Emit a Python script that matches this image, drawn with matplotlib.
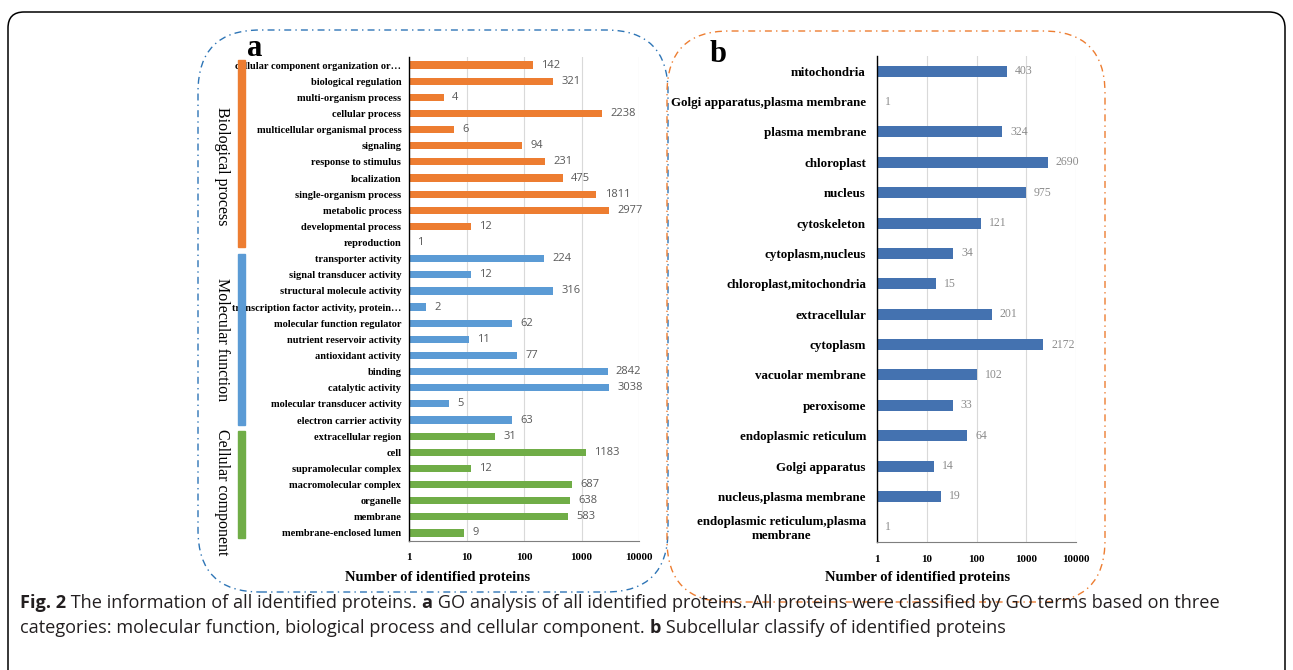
import matplotlib.pyplot as plt
from matplotlib.patches import FancyBboxPatch, Rectangle
from matplotlib.transforms import IdentityTransform

# ---- data -------------------------------------------------------------
go_terms = [
    "cellular component organization or…", "biological regulation",
    "multi-organism process", "cellular process",
    "multicellular organismal process", "signaling", "response to stimulus",
    "localization", "single-organism process", "metabolic process",
    "developmental process", "reproduction",
    "transporter activity", "signal transducer activity",
    "structural molecule activity", "transcription factor activity, protein…",
    "molecular function regulator", "nutrient reservoir activity",
    "antioxidant activity", "binding", "catalytic activity",
    "molecular transducer activity", "electron carrier activity",
    "extracellular region", "cell", "supramolecular complex",
    "macromolecular complex", "organelle", "membrane",
    "membrane-enclosed lumen",
]
go_counts = [142, 321, 4, 2238, 6, 94, 231, 475, 1811, 2977, 12, 1,
             224, 12, 316, 2, 62, 11, 77, 2842, 3038, 5, 63,
             31, 1183, 12, 687, 638, 583, 9]
go_groups = ["Biological process", "Molecular function", "Cellular component"]
go_group_sizes = [12, 11, 7]

loc_terms = [
    "mitochondria", "Golgi apparatus,plasma membrane", "plasma membrane",
    "chloroplast", "nucleus", "cytoskeleton", "cytoplasm,nucleus",
    "chloroplast,mitochondria", "extracellular", "cytoplasm",
    "vacuolar membrane", "peroxisome", "endoplasmic reticulum",
    "Golgi apparatus", "nucleus,plasma membrane",
    "endoplasmic reticulum,plasma\nmembrane",
]
loc_counts = [403, 1, 324, 2690, 975, 121, 34, 15, 201, 2172, 102, 33, 64,
              14, 19, 1]

x_ticks = [1, 10, 100, 1000, 10000]

# ---- style ------------------------------------------------------------
W, H = 1293, 670
serif = "Liberation Serif"
group_colors = ["#ED7D31", "#5B9BD5", "#70AD47"]
loc_color = "#4472B0"
grid_color = "#D9D9D9"

fig = plt.figure(figsize=(W / 100, H / 100), dpi=100)


def px_axes(x0, y0, x1, y1):
    # pixel box (image coords, y down) -> figure fraction axes
    return fig.add_axes([x0 / W, 1 - y1 / H, (x1 - x0) / W, (y1 - y0) / H])


def px_box(x0, y0, x1, y1, r, **kw):
    p = FancyBboxPatch((x0, H - y1), x1 - x0, y1 - y0,
                       boxstyle=f"round,pad=0,rounding_size={r}",
                       transform=IdentityTransform(), fill=False, **kw)
    fig.add_artist(p)


# frames
px_box(8, 12, 1285, 720, 16, edgecolor="black", linewidth=1.1)
dashdot = (0, (5, 3, 1, 3))
px_box(198, 30, 668, 592, 62, edgecolor="#2E75B6", linewidth=1.0,
       linestyle=dashdot)
px_box(667, 31, 1105, 602, 62, edgecolor="#ED7D31", linewidth=1.0,
       linestyle=dashdot)


def style_axis(ax, n, label_x, label_y):
    ax.set_xscale("log")
    ax.set_xlim(1, 10000)
    ax.set_ylim(n - 0.5, -0.5)
    ax.set_xticks(x_ticks)
    ax.set_xticklabels([str(t) for t in x_ticks], fontfamily=serif,
                       fontweight="bold", fontsize=8)
    ax.minorticks_off()
    ax.tick_params(axis="x", length=0, pad=9)
    ax.tick_params(axis="y", length=0)
    ax.grid(axis="x", color=grid_color, linewidth=0.8)
    ax.set_axisbelow(True)
    for s in ("top", "right"):
        ax.spines[s].set_visible(False)
    ax.spines["left"].set_color("black")
    ax.spines["left"].set_linewidth(1.0)
    ax.spines["bottom"].set_color("#7F7F7F")
    ax.spines["bottom"].set_linewidth(0.8)
    lab = ax.set_xlabel("Number of identified proteins", fontfamily=serif,
                        fontweight="bold", fontsize=10.5)
    lab.set_va("center")
    ax.xaxis.set_label_coords(label_x, label_y)


# ---- panel a ----------------------------------------------------------
ax1 = px_axes(409, 57, 639, 541)
colors_a = []
for c, n in zip(group_colors, go_group_sizes):
    colors_a += [c] * n
ya = list(range(len(go_terms)))
ax1.barh(ya, [v - 1 for v in go_counts], left=1, height=0.45,
         color=colors_a)
style_axis(ax1, len(go_terms), (438 - 409) / 230, -(577 - 541) / 484)
ax1.set_yticks(ya)
ax1.set_yticklabels(go_terms, fontfamily=serif, fontweight="bold",
                    fontsize=7.5)
ax1.tick_params(axis="y", pad=5.5)
for y, v in zip(ya, go_counts):
    ax1.annotate(str(v), (v, y), xytext=(6, 0), textcoords="offset points",
                 va="center", ha="left", fontsize=8, color="#595959",
                 family="Open Sans")

# group bars and group names to the left
start = 0
ax_w = 639 - 409
name_shift = [0.75, 0, 0.5]
for name, n, c, dy in zip(go_groups, go_group_sizes, group_colors,
                          name_shift):
    y0, y1 = start - 0.3, start + n - 1 + 0.3
    ax1.add_patch(Rectangle(((238 - 409) / ax_w, y0), 7 / ax_w, y1 - y0,
                            transform=ax1.get_yaxis_transform(),
                            color=c, clip_on=False, zorder=3))
    ax1.text((222 - 409) / ax_w, (y0 + y1) / 2 + dy, name,
             transform=ax1.get_yaxis_transform(), rotation=-90,
             ha="center", va="center", fontfamily=serif, fontsize=11.5)
    start += n

fig.text(255 / W, 1 - 48 / H, "a", fontfamily=serif, fontweight="bold",
         fontsize=22, ha="center", va="center")

# ---- panel b ----------------------------------------------------------
ax2 = px_axes(877, 56, 1076, 542)
yb = list(range(len(loc_terms)))
ax2.barh(yb, [v - 1 for v in loc_counts], left=1, height=0.36,
         color=loc_color)
style_axis(ax2, len(loc_terms), (918 - 877) / 199, -(577 - 542) / 486)
ax2.set_yticks(yb)
ax2.set_yticklabels(loc_terms, fontfamily=serif, fontweight="bold",
                    fontsize=9.4)
ax2.get_yticklabels()[-1].set_multialignment("center")
ax2.tick_params(axis="y", pad=8)
for y, v in zip(yb, loc_counts):
    ax2.annotate(str(v), (v, y), xytext=(6, 0), textcoords="offset points",
                 va="center", ha="left", fontsize=8.5, color="#8C8C8C",
                 fontfamily=serif)

fig.text(718 / W, 1 - 55 / H, "b", fontfamily=serif, fontweight="bold",
         fontsize=22, ha="center", va="center")

# ---- caption ----------------------------------------------------------
cap_font = "Open Sans"
cap_size = 13.1
renderer = fig.canvas.get_renderer()


def rich_line(x_px, y_px, parts):
    x = x_px
    for txt, bold in parts:
        t = fig.text(x / W, 1 - y_px / H, txt, fontfamily=cap_font,
                     fontsize=cap_size, fontweight="bold" if bold else "normal",
                     ha="left", va="baseline", color="#231F20")
        bb = t.get_window_extent(renderer)
        x += bb.width


rich_line(20, 608, [
    ("Fig. 2", True), (" The information of all identified proteins. ", False),
    ("a", True),
    (" GO analysis of all identified proteins. All proteins were classified "
     "by GO terms based on three", False),
])
rich_line(20, 633, [
    ("categories: molecular function, biological process and cellular "
     "component. ", False),
    ("b", True), (" Subcellular classify of identified proteins", False),
])

fig.savefig("out.png", dpi=100)
